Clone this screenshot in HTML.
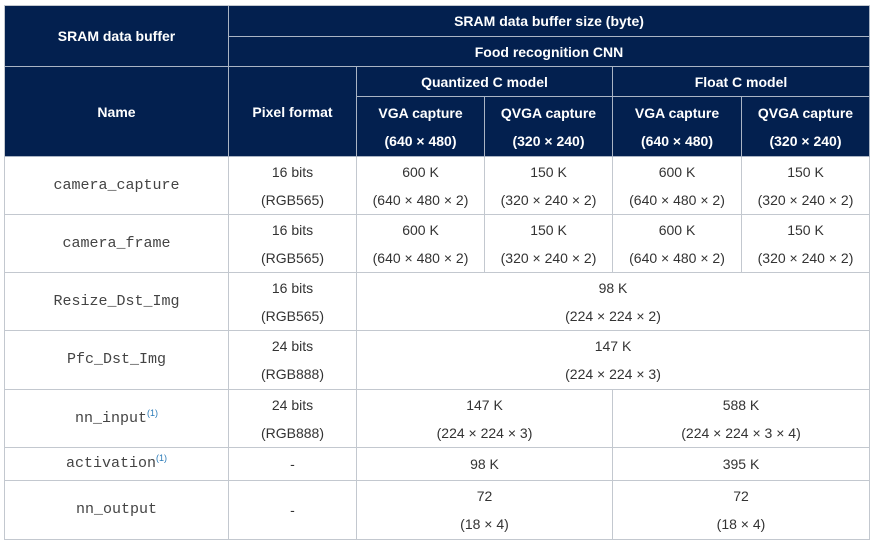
<!DOCTYPE html>
<html><head><meta charset="utf-8"><style>
body{margin:0;width:877px;height:545px;background:#fff;position:relative;overflow:hidden;font-family:"Liberation Sans",sans-serif;}
.c{position:absolute;box-sizing:border-box;display:flex;align-items:center;justify-content:center;text-align:center;font-size:14px;line-height:28px;color:#333;border-right:1px solid #c3c8cf;border-bottom:1px solid #c3c8cf;}
.h{background:#03204f;color:#fff;font-weight:bold;border-color:#aab4c4;}
.m{font-family:"Liberation Mono",monospace;font-size:15px;color:#444;}
sup{font-size:9px;color:#2a7ab8;line-height:0;font-family:"Liberation Sans",sans-serif;vertical-align:6px;}
#frame{position:absolute;left:4px;top:5px;width:0;height:535px;border-left:1px solid #c3c8cf;}
#ftop{position:absolute;left:4px;top:5px;width:866px;height:0;border-top:1px solid #c3c8cf;}
</style></head><body>
<div class="c h" style="left:5px;top:6px;width:224px;height:61px">SRAM data buffer</div>
<div class="c h" style="left:229px;top:6px;width:641px;height:31px">SRAM data buffer size (byte)</div>
<div class="c h" style="left:229px;top:37px;width:641px;height:30px">Food recognition CNN</div>
<div class="c h" style="left:5px;top:67px;width:224px;height:90px">Name</div>
<div class="c h" style="left:5px;top:67px;width:225px;height:90px;left:229px;width:128px">Pixel format</div>
<div class="c h" style="left:357px;top:67px;width:256px;height:30px">Quantized C model</div>
<div class="c h" style="left:613px;top:67px;width:257px;height:30px">Float C model</div>
<div class="c h" style="left:357px;top:97px;width:128px;height:60px">VGA capture<br>(640 × 480)</div>
<div class="c h" style="left:485px;top:97px;width:128px;height:60px">QVGA capture<br>(320 × 240)</div>
<div class="c h" style="left:613px;top:97px;width:129px;height:60px">VGA capture<br>(640 × 480)</div>
<div class="c h" style="left:742px;top:97px;width:128px;height:60px">QVGA capture<br>(320 × 240)</div>

<div class="c m" style="left:5px;top:157px;width:224px;height:58px">camera_capture</div>
<div class="c" style="left:229px;top:157px;width:128px;height:58px">16 bits<br>(RGB565)</div>
<div class="c" style="left:357px;top:157px;width:128px;height:58px">600 K<br>(640 × 480 × 2)</div>
<div class="c" style="left:485px;top:157px;width:128px;height:58px">150 K<br>(320 × 240 × 2)</div>
<div class="c" style="left:613px;top:157px;width:129px;height:58px">600 K<br>(640 × 480 × 2)</div>
<div class="c" style="left:742px;top:157px;width:128px;height:58px">150 K<br>(320 × 240 × 2)</div>

<div class="c m" style="left:5px;top:215px;width:224px;height:58px">camera_frame</div>
<div class="c" style="left:229px;top:215px;width:128px;height:58px">16 bits<br>(RGB565)</div>
<div class="c" style="left:357px;top:215px;width:128px;height:58px">600 K<br>(640 × 480 × 2)</div>
<div class="c" style="left:485px;top:215px;width:128px;height:58px">150 K<br>(320 × 240 × 2)</div>
<div class="c" style="left:613px;top:215px;width:129px;height:58px">600 K<br>(640 × 480 × 2)</div>
<div class="c" style="left:742px;top:215px;width:128px;height:58px">150 K<br>(320 × 240 × 2)</div>

<div class="c m" style="left:5px;top:273px;width:224px;height:58px">Resize_Dst_Img</div>
<div class="c" style="left:229px;top:273px;width:128px;height:58px">16 bits<br>(RGB565)</div>
<div class="c" style="left:357px;top:273px;width:513px;height:58px">98 K<br>(224 × 224 × 2)</div>

<div class="c m" style="left:5px;top:331px;width:224px;height:59px">Pfc_Dst_Img</div>
<div class="c" style="left:229px;top:331px;width:128px;height:59px">24 bits<br>(RGB888)</div>
<div class="c" style="left:357px;top:331px;width:513px;height:59px">147 K<br>(224 × 224 × 3)</div>

<div class="c m" style="left:5px;top:390px;width:224px;height:58px"><span>nn_input<sup>(1)</sup></span></div>
<div class="c" style="left:229px;top:390px;width:128px;height:58px">24 bits<br>(RGB888)</div>
<div class="c" style="left:357px;top:390px;width:256px;height:58px">147 K<br>(224 × 224 × 3)</div>
<div class="c" style="left:613px;top:390px;width:257px;height:58px">588 K<br>(224 × 224 × 3 × 4)</div>

<div class="c m" style="left:5px;top:448px;width:224px;height:33px"><span>activation<sup>(1)</sup></span></div>
<div class="c" style="left:229px;top:448px;width:128px;height:33px">-</div>
<div class="c" style="left:357px;top:448px;width:256px;height:33px">98 K</div>
<div class="c" style="left:613px;top:448px;width:257px;height:33px">395 K</div>

<div class="c m" style="left:5px;top:481px;width:224px;height:59px">nn_output</div>
<div class="c" style="left:229px;top:481px;width:128px;height:59px">-</div>
<div class="c" style="left:357px;top:481px;width:256px;height:59px">72<br>(18 × 4)</div>
<div class="c" style="left:613px;top:481px;width:257px;height:59px">72<br>(18 × 4)</div>
<div id="frame"></div><div id="ftop"></div>
</body></html>
